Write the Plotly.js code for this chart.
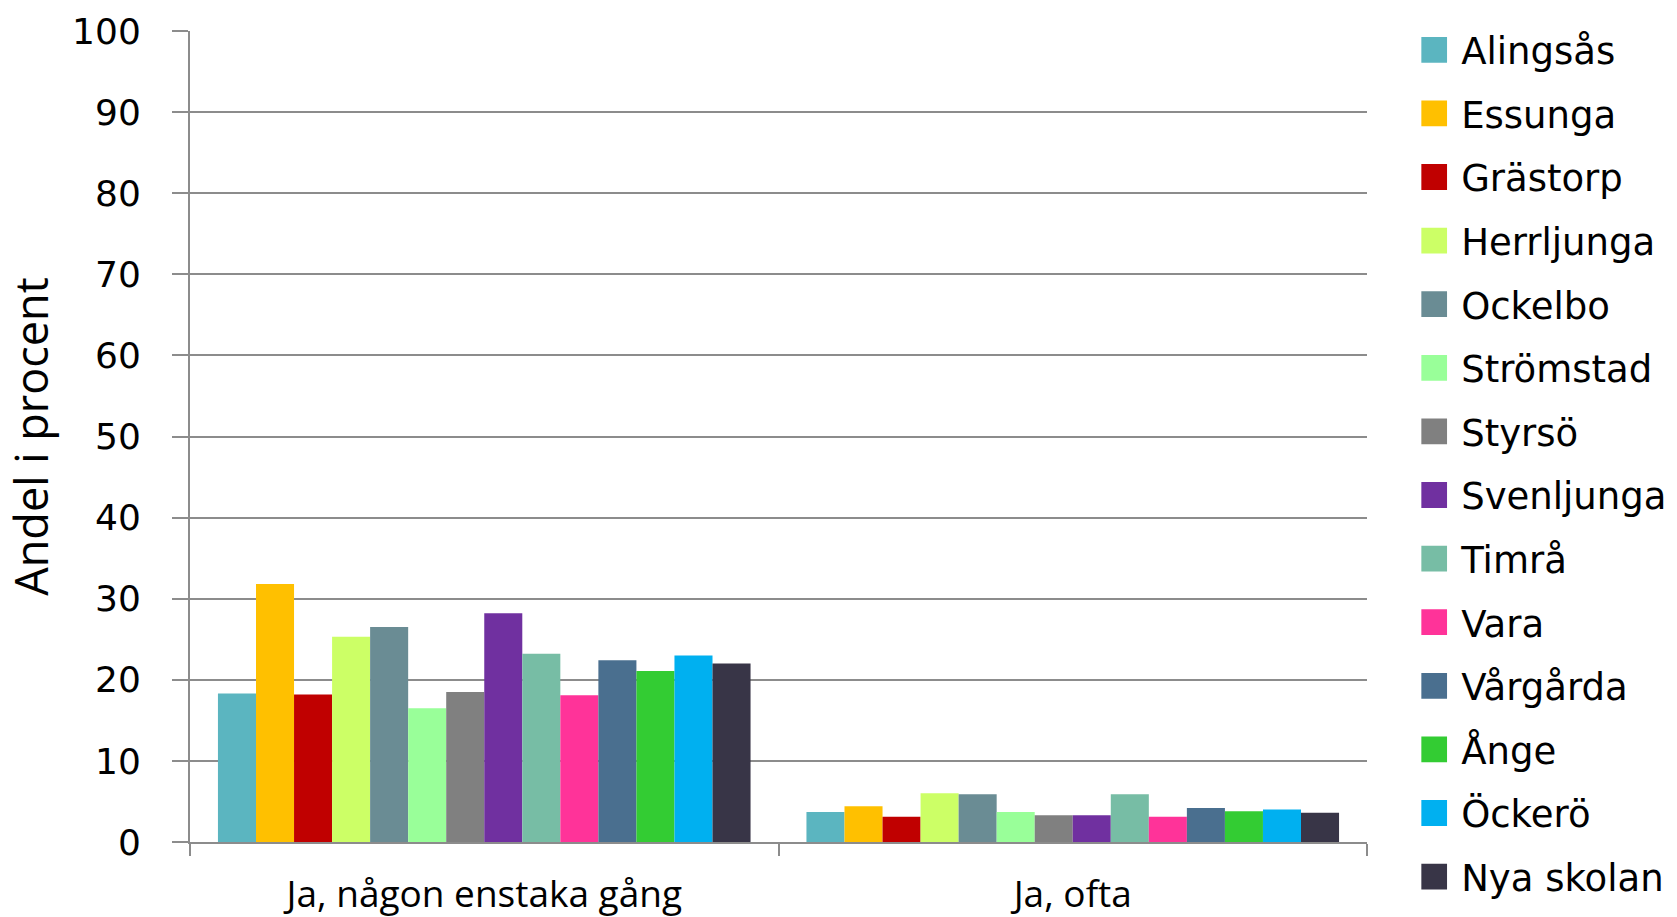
<!DOCTYPE html>
<html>
<head>
<meta charset="utf-8">
<script src="https://cdn.plot.ly/plotly-3.0.1.min.js"></script>
<style>html,body{margin:0;padding:0;background:#fff;}#chart{width:1677px;height:917px;}</style>
</head>
<body>
<div id="chart"></div>
<script>
const categories = ["Ja, någon enstaka gång", "Ja, ofta"];
const schools = ["Alingsås","Essunga","Grästorp","Herrljunga","Ockelbo","Strömstad","Styrsö","Svenljunga","Timrå","Vara","Vårgårda","Ånge","Öckerö","Nya skolan"];
const colors = ["#5BB5C0","#FFC000","#C00000","#CCFF66","#6A8C94","#99FF99","#808080","#7030A0","#77BDA5","#FF3399","#4A6F8F","#33CC33","#00B0F0","#383547"];
const valuesSometimes = [18.3, 31.8, 18.2, 25.3, 26.5, 16.5, 18.5, 28.2, 23.2, 18.1, 22.4, 21.1, 23.0, 22.0];
const valuesOften = [3.7, 4.4, 3.1, 6.0, 5.9, 3.7, 3.3, 3.3, 5.9, 3.1, 4.2, 3.8, 4.0, 3.6];
const yTicks = [0,10,20,30,40,50,60,70,80,90,100];

const font = "Open Sans, Noto Sans, sans-serif";
const wide = "DejaVu Sans, sans-serif";
const traces = schools.map((s, i) => ({
  type: "bar",
  name: s,
  x: categories,
  y: [valuesSometimes[i], valuesOften[i]],
  marker: {color: colors[i], line: {width: 0}},
  legendgroup: "g" + i,
  hoverinfo: "name+y"
}));

const layout = {
  width: 1677, height: 917,
  paper_bgcolor: "#fff", plot_bgcolor: "#fff",
  margin: {l: 190, r: 310, t: 31, b: 75, autoexpand: false},
  barmode: "group",
  bargap: 0.095,
  bargroupgap: 0,
  font: {family: font, color: "#000", size: 34},
  xaxis: {
    type: "category",
    showgrid: false,
    showline: true, linecolor: "#8C8C8C", linewidth: 2,
    ticks: "outside", tickson: "boundaries", ticklen: 12, tickcolor: "#8C8C8C", tickwidth: 2,
    tickfont: {family: font, size: 37, color: "#000"},
    ticklabelstandoff: 19,
    zeroline: false
  },
  yaxis: {
    range: [0, 100],
    tickvals: yTicks,
    ticktext: yTicks.map(String),
    showgrid: true, gridcolor: "#8C8C8C", gridwidth: 2,
    showline: true, linecolor: "#8C8C8C", linewidth: 2,
    ticks: "outside", ticklen: 16, tickcolor: "#8C8C8C", tickwidth: 2,
    tickfont: {family: wide, size: 36, color: "#000"},
    ticklabelstandoff: 24,
    zeroline: false,
    title: {text: "Andel i procent", font: {family: font, size: 45, color: "#000"}, standoff: 13}
  },
  legend: {
    x: 1.046, xanchor: "left", y: 1.0145, yanchor: "top",
    font: {family: wide, size: 37, color: "#000"},
    tracegroupgap: 12.5,
    itemwidth: 30,
    maxheight: 917,
    bgcolor: "rgba(0,0,0,0)"
  },
  showlegend: true
};

Plotly.newPlot("chart", traces, layout, {displayModeBar: false, staticPlot: true}).then(gd => {
  // enlarge the legend colour swatches to match the reference's square keys
  gd.querySelectorAll(".legend .legendpoints path").forEach(p => {
    p.setAttribute("transform", "translate(13,0) scale(2.15)");
  });
});
</script>
</body>
</html>
